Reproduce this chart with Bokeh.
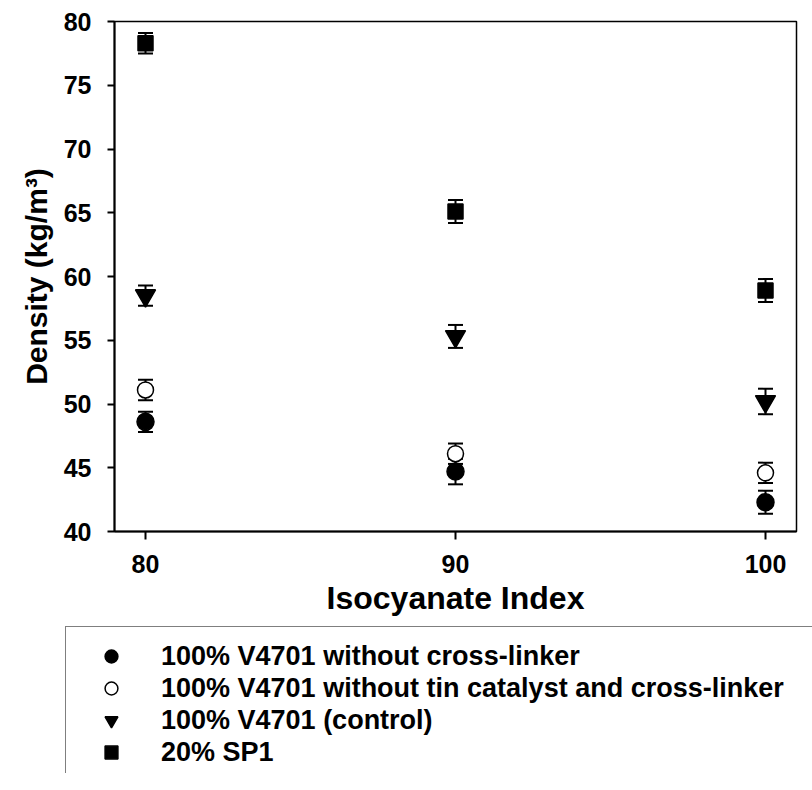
from bokeh.plotting import figure
from bokeh.models import (ColumnDataSource, Whisker, TeeHead, FixedTicker, Legend, LegendItem, Range1d)
from bokeh.layouts import column
from bokeh.embed import file_html
from bokeh.resources import INLINE

# ---- data ----
iso_index = [80, 90, 100]
no_crosslinker = [48.6, 44.7, 42.3]
no_crosslinker_err = [0.8, 1.0, 0.9]
no_tin = [51.1, 46.1, 44.6]
no_tin_err = [0.8, 0.8, 0.8]
control = [58.5, 55.3, 50.2]
control_err = [0.8, 0.9, 1.0]
sp1 = [78.3, 65.1, 58.9]
sp1_err = [0.8, 0.9, 0.9]

labels = [
    "100% V4701 without cross-linker",
    "100% V4701 without tin catalyst and cross-linker",
    "100% V4701 (control)",
    "20% SP1",
]
y_ticks = [40, 45, 50, 55, 60, 65, 70, 75, 80]
x_ticks = [80, 90, 100]

FONT = "Liberation Sans"

p = figure(width=812, height=623, output_backend="svg", toolbar_location=None,
           x_range=Range1d(79, 101), y_range=Range1d(40, 80),
           min_border_left=114, min_border_right=16, min_border_top=21, min_border_bottom=92)
p.frame_align = False
p.background_fill_color = "white"
p.border_fill_color = "white"
p.outline_line_color = "black"
p.outline_line_width = 1.5
p.xgrid.visible = False
p.ygrid.visible = False

for ax in (p.xaxis[0], p.yaxis[0]):
    ax.axis_line_width = 2
    ax.major_tick_line_width = 2
    ax.minor_tick_line_color = None
    ax.major_tick_in = 0
    ax.major_label_text_font = FONT
    ax.major_label_text_font_style = "bold"
    ax.major_label_text_font_size = "25px"
    ax.major_label_text_color = "black"
    ax.axis_label_text_font = FONT
    ax.axis_label_text_font_style = "bold"
    ax.axis_label_text_color = "black"

p.xaxis.axis_label_text_font_size = "32px"
p.yaxis.axis_label_text_font_size = "30px"
p.yaxis.ticker = FixedTicker(ticks=y_ticks)
p.xaxis.ticker = FixedTicker(ticks=x_ticks)
p.yaxis.major_tick_out = 7
p.xaxis.major_tick_out = 8
p.yaxis.major_label_standoff = 16
p.xaxis.major_label_standoff = 15
p.xaxis.axis_label = "Isocyanate Index"
p.yaxis.axis_label = "Density (kg/m³)"
p.xaxis.axis_label_standoff = 4
p.yaxis.axis_label_standoff = 8

series = [
    (no_crosslinker, no_crosslinker_err, "circle", "black", 17),
    (no_tin, no_tin_err, "circle", "white", 16),
    (control, control_err, "inverted_triangle", "black", 20),
    (sp1, sp1_err, "square", "black", 15),
]

# legend canvas below the chart (its own frame spans the full width)
p2 = figure(width=812, height=150, output_backend="svg", toolbar_location=None,
            x_range=Range1d(0, 1), y_range=Range1d(0, 1), min_border=0,
            x_axis_location=None, y_axis_location=None)
p2.frame_align = False
p2.outline_line_color = None
p2.xgrid.visible = False
p2.ygrid.visible = False
p2.background_fill_color = "white"
p2.border_fill_color = "white"

items = []
for (vals, errs, marker, fill, size), lab in zip(series, labels):
    src = ColumnDataSource(dict(x=iso_index, y=vals,
                                upper=[v + e for v, e in zip(vals, errs)],
                                lower=[v - e for v, e in zip(vals, errs)]))
    w = Whisker(source=src, base="x", upper="upper", lower="lower", dimension="height",
                line_color="black", line_width=2, level="underlay",
                upper_head=TeeHead(size=15, line_width=2, line_color="black"),
                lower_head=TeeHead(size=15, line_width=2, line_color="black"))
    p.add_layout(w)
    p.scatter("x", "y", source=src, marker=marker, size=size,
              fill_color=fill, line_color="black", line_width=1.5)
    # same series in the legend canvas (outside its visible range) to supply legend glyphs
    lr = p2.scatter("x", "y", source=src, marker=marker, size=size,
                    fill_color=fill, line_color="black", line_width=1.5)
    items.append(LegendItem(label=lab, renderers=[lr]))

legend = Legend(items=items, location=(65, -9), orientation="vertical",
                label_text_font=FONT, label_text_font_style="bold",
                label_text_font_size="27px", label_text_color="black",
                glyph_width=64, glyph_height=32, label_height=32,
                label_standoff=18, spacing=0, padding=13, margin=0,
                label_width=760,
                border_line_color="black", border_line_width=1.5,
                background_fill_color="white", background_fill_alpha=1.0)
p2.add_layout(legend, "center")

open("out.html", "w").write(file_html(column(p, p2), INLINE))
